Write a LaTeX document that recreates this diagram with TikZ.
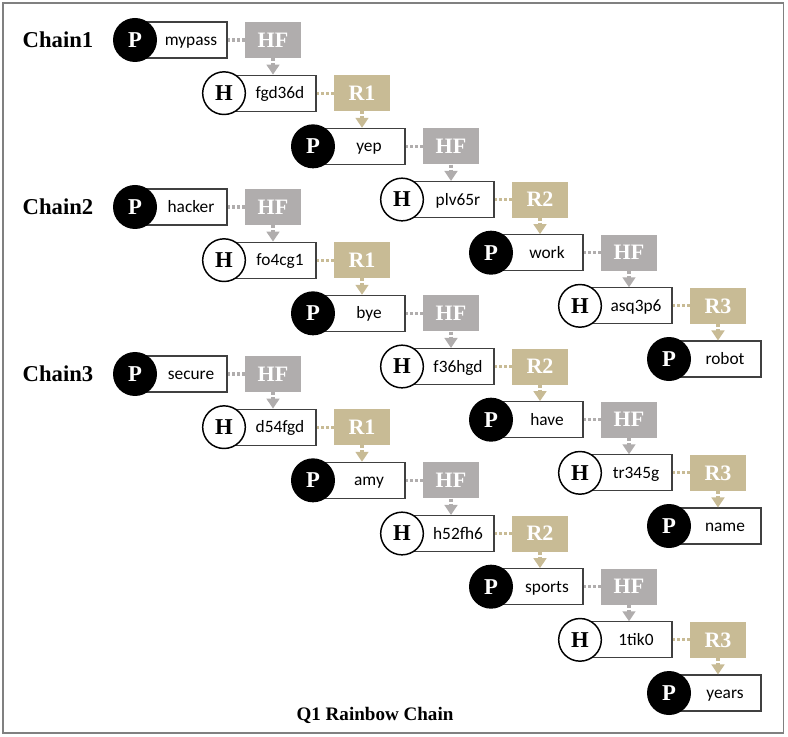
\documentclass[tikz,border=0pt]{standalone}
\usepackage{fontspec}
\setmainfont{Liberation Serif}
\newfontfamily\calibri{Carlito}
\usetikzlibrary{arrows.meta}
\definecolor{hfgray}{HTML}{B0ADAD}
\definecolor{rtan}{HTML}{C8BB95}
\tikzset{
  chainlbl/.style={font=\bfseries\fontsize{17}{17}\selectfont},
  pcirc/.style={circle,fill=black,text=white,minimum size=33pt,inner sep=0pt,font=\bfseries\fontsize{17}{17}\selectfont},
  hcirc/.style={circle,draw=black,line width=1.1pt,fill=white,minimum size=32pt,inner sep=0pt,font=\bfseries\fontsize{17}{17}\selectfont},
  wordbox/.style={rectangle,draw=black!75,line width=0.8pt,fill=white,minimum width=61.5pt,minimum height=27pt,inner sep=0pt},
  wordtxt/.style={font=\calibri\fontsize{13}{13}\selectfont,inner sep=0pt,text height=9pt,text depth=3pt},
  fnbox/.style={rectangle,minimum width=42pt,minimum height=27pt,inner sep=0pt,text=white,font=\bfseries\fontsize{16.5}{16.5}\selectfont},
  hfbox/.style={fnbox,fill=hfgray},
  rbox/.style={fnbox,fill=rtan},
  link/.style={line width=2.3pt,dash pattern=on 2.2pt off 1.5pt},
  hflink/.style={link,hfgray},
  rlink/.style={link,rtan},
  tip/.style={-{Triangle[length=7.5pt,width=9.5pt]}}
}
\begin{document}
\begin{tikzpicture}[x=0.75pt,y=-0.75pt]
\useasboundingbox (0,0) rectangle (788,737);
\draw[gray,line width=1.1pt] (3,3) rectangle (783.5,733);

\foreach \y/\words [count=\ch] in {40/{mypass,fgd36d,yep,plv65r,work,asq3p6,robot},
    207/{hacker,fo4cg1,bye,f36hgd,have,tr345g,name},
    374/{secure,d54fgd,amy,h52fh6,sports,1tik0,years}} {
  \node[chainlbl] (chain\ch) at (58,\y) {Chain\ch};
  \foreach \txt [count=\k from 0] in \words {
    \pgfmathsetmacro\x{135+89*\k}
    \pgfmathsetmacro\yy{\y+53.17*\k}
    \node[wordbox] (w\ch\k) at (\x+51,\yy) {};
    \node[wordtxt] (t\ch\k) at (\x+56,\yy+1.5) {\txt};
    \ifodd\k
      \node[hcirc] (c\ch\k) at (\x,\yy) {H};
    \else
      \node[pcirc] (c\ch\k) at (\x,\yy) {P};
    \fi
    % function box
    \ifnum\k<6
      \ifodd\k
        \pgfmathtruncatemacro\n{(\k+1)/2}
        \node[rbox] (f\ch\k) at (\x+138,\yy) {R\n};
        \draw[rlink] (w\ch\k) -- (f\ch\k);
      \else
        \node[hfbox] (f\ch\k) at (\x+138,\yy) {HF};
        \draw[hflink] (w\ch\k) -- (f\ch\k);
      \fi
    \fi
    % arrow from the box above
    \ifnum\k>0
      \pgfmathtruncatemacro\p{\k-1}
      \ifodd\k
        \draw[hflink,tip] (f\ch\p.south) -- (f\ch\p.south |- w\ch\k.north);
      \else
        \draw[rlink,tip] (f\ch\p.south) -- (f\ch\p.south |- w\ch\k.north);
      \fi
    \fi
  }
}

\node[font=\bfseries\fontsize{14.3}{14.3}\selectfont] (title) at (375,715) {Q1 Rainbow Chain};
\end{tikzpicture}
\end{document}
